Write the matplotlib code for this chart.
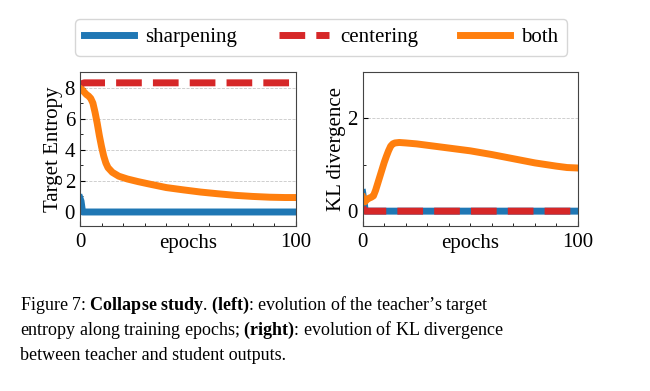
import matplotlib
matplotlib.use("Agg")
import matplotlib.pyplot as plt
from matplotlib.ticker import MultipleLocator

plt.rcParams['font.family'] = ['Liberation Serif', 'DejaVu Serif']
plt.rcParams['mathtext.fontset'] = 'custom'
plt.rcParams['mathtext.rm'] = 'Liberation Serif'
plt.rcParams['mathtext.bf'] = 'Liberation Serif:bold'

# left panel: target entropy
sharp_ent_epochs = [0, 0.5, 1.2, 100]
sharp_ent = [0.9, 0.7, 0.0, 0.0]
center_ent_epochs = [0, 1, 2, 100]
center_ent = [8.15, 8.25, 8.3, 8.3]
both_ent_epochs = [0, 1, 2, 3, 4, 5, 6, 7, 8, 9, 10, 11, 12, 13, 15, 18, 22,
                   27, 32, 40, 48, 56, 64, 72, 80, 88, 95, 100]
both_ent = [7.95, 7.85, 7.7, 7.55, 7.45, 7.3, 7.0, 6.4, 5.7, 4.9, 4.2, 3.6, 3.15,
            2.85, 2.55, 2.3, 2.12, 1.95, 1.8, 1.57, 1.42, 1.28, 1.17, 1.07,
            1.0, 0.95, 0.93, 0.93]

# right panel: KL divergence
sharp_kl_epochs = [0, 0.5, 1.2, 100]
sharp_kl = [0.4, 0.25, 0.0, 0.0]
center_kl_epochs = [0, 1, 100]
center_kl = [0.08, 0.0, 0.0]
both_kl_epochs = [0, 0.5, 1, 2, 3, 4, 5, 6, 7, 8, 9, 10, 11, 12, 13, 14, 15,
                  17, 20, 25, 30, 40, 50, 60, 70, 80, 90, 95, 100]
both_kl = [0.3, 0.22, 0.2, 0.25, 0.28, 0.3, 0.33, 0.45, 0.6, 0.75, 0.9, 1.05,
           1.18, 1.3, 1.4, 1.45, 1.47, 1.48, 1.47, 1.45, 1.42, 1.36, 1.30,
           1.22, 1.13, 1.04, 0.97, 0.94, 0.93]

labels = ["sharpening", "centering", "both"]
caption = [
    "Figure 7: $\\mathbf{Collapse}$ $\\mathbf{study}$. $\\mathbf{(left)}$: evolution of the teacher\u2019s target",
    "entropy along training epochs; $\\mathbf{(right)}$: evolution of KL divergence",
    "between teacher and student outputs.",
]

blue, red, orange = "#1f77b4", "#d62728", "#ff7f0e"
lw = 5
fs = 15

fig = plt.figure(figsize=(6.5, 3.91), dpi=100)
ax1 = fig.add_axes([0.123, 0.422, 0.332, 0.394])
ax2 = fig.add_axes([0.558, 0.422, 0.331, 0.394])

for ax, data, ylab in [
    (ax1, [(sharp_ent_epochs, sharp_ent), (center_ent_epochs, center_ent),
           (both_ent_epochs, both_ent)], "Target Entropy"),
    (ax2, [(sharp_kl_epochs, sharp_kl), (center_kl_epochs, center_kl),
           (both_kl_epochs, both_kl)], "KL divergence"),
]:
    (xs, ys), (xc, yc), (xb, yb) = data
    ax.plot(xs, ys, color=blue, lw=lw, label=labels[0])
    ax.plot(xc, yc, color=red, lw=lw, ls="--", label=labels[1])
    ax.plot(xb, yb, color=orange, lw=lw, label=labels[2])
    ax.set_xlim(0, 100)
    ax.set_xticks([0, 100])
    ax.xaxis.set_minor_locator(MultipleLocator(10))
    ax.tick_params(which="both", direction="in", labelsize=fs)
    ax.tick_params(axis="x", pad=5)
    ax.grid(axis="y", ls="--", color="#c8c8c8", lw=0.6)
    ax.set_xlabel("epochs", fontsize=fs, labelpad=-13)
    ax.set_ylabel(ylab, fontsize=fs, labelpad=1)
    for s in ax.spines.values():
        s.set_color("#444444")
        s.set_linewidth(0.8)

ax1.set_ylim(-0.9, 9)
ax1.set_yticks([0, 2, 4, 6, 8])
ax1.yaxis.set_minor_locator(MultipleLocator(1))
ax2.set_ylim(-0.32, 3)
ax2.set_yticks([0, 2])
ax2.yaxis.set_minor_locator(MultipleLocator(1))

handles, labs = ax1.get_legend_handles_labels()
fig.legend(handles, labs, loc="center", bbox_to_anchor=(0.494, 0.904), ncol=3,
           fontsize=fs, handlelength=2.4, handletextpad=0.55, columnspacing=2.0,
           frameon=True, edgecolor="#cccccc", borderpad=0.4)

for i, line in enumerate(caption):
    fig.text(0.031, 1 - (305 + 25 * i) / 391, line, fontsize=13, va="center", ha="left")

fig.savefig("out.png", dpi=100)
